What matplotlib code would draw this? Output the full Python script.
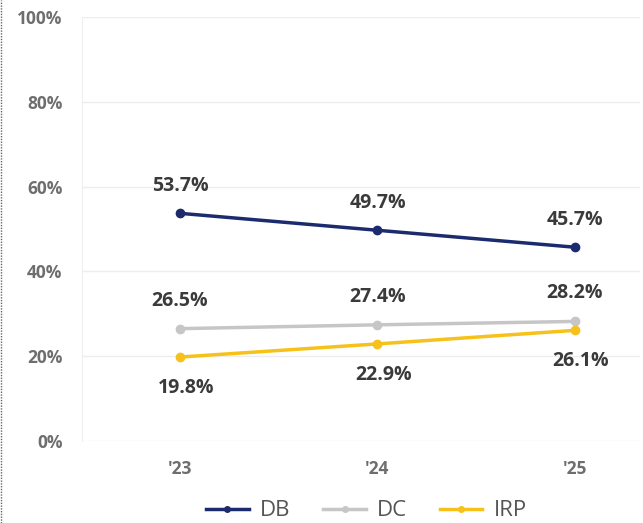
import matplotlib.pyplot as plt
from matplotlib.lines import Line2D

plt.rcParams["font.family"] = ["Open Sans", "DejaVu Sans"]

years = ["'23", "'24", "'25"]
db = [53.7, 49.7, 45.7]
dc = [26.5, 27.4, 28.2]
irp = [19.8, 22.9, 26.1]

series = [
    ("DB", db, "#1c2b6e", 27, 0),
    ("DC", dc, "#c6c6c6", 28, 0),
    ("IRP", irp, "#f6c21a", -31, 6),
]

fig = plt.figure(figsize=(6.43, 5.23), dpi=100)
ax = fig.add_axes([82 / 643, 1 - 441 / 523, (640 - 82) / 643, (441 - 17) / 523])

x = list(range(len(years)))
for name, vals, color, dy, dx in series:
    ax.plot(x, vals, color=color, linewidth=2.5, marker="o", markersize=6, label=name, zorder=3)
    for xi, v in zip(x, vals):
        ax.annotate(f"{v}%", (xi, v), xytext=(dx, dy), textcoords="offset pixels",
                    ha="center", va="center", fontsize=14, fontweight="bold", color="#3a3a3a")

ax.set_xlim(-0.496, 2.329)
ax.set_ylim(0, 100)
ax.set_yticks(range(0, 101, 20))
ax.set_yticklabels([f"{t}%" for t in range(0, 101, 20)])
ax.set_xticks(x)
ax.set_xticklabels(years)
ax.tick_params(length=0, labelsize=12.5, labelcolor="#6e6e6e")
for lbl in ax.get_yticklabels() + ax.get_xticklabels():
    lbl.set_fontweight("bold")
ax.tick_params(axis="y", pad=14)
ax.tick_params(axis="x", pad=14)

ax.grid(axis="y", color="#ededed", linewidth=1)
for s in ["top", "right", "bottom"]:
    ax.spines[s].set_visible(False)
ax.spines["left"].set_color("#efefef")

leg = fig.legend(loc="lower center", bbox_to_anchor=(0.57, -0.035), ncol=3, frameon=False,
                 fontsize=16, handlelength=1.9, columnspacing=1.5, handletextpad=0.5)
for t in leg.get_texts():
    t.set_color("#555555")
for h in leg.legend_handles:
    h.set_markersize(4)

fig.add_artist(Line2D([0.002, 0.002], [0, 1], transform=fig.transFigure,
                      color="#666666", linewidth=1, linestyle=(0, (1, 1))))

fig.savefig("out.png", dpi=100)
